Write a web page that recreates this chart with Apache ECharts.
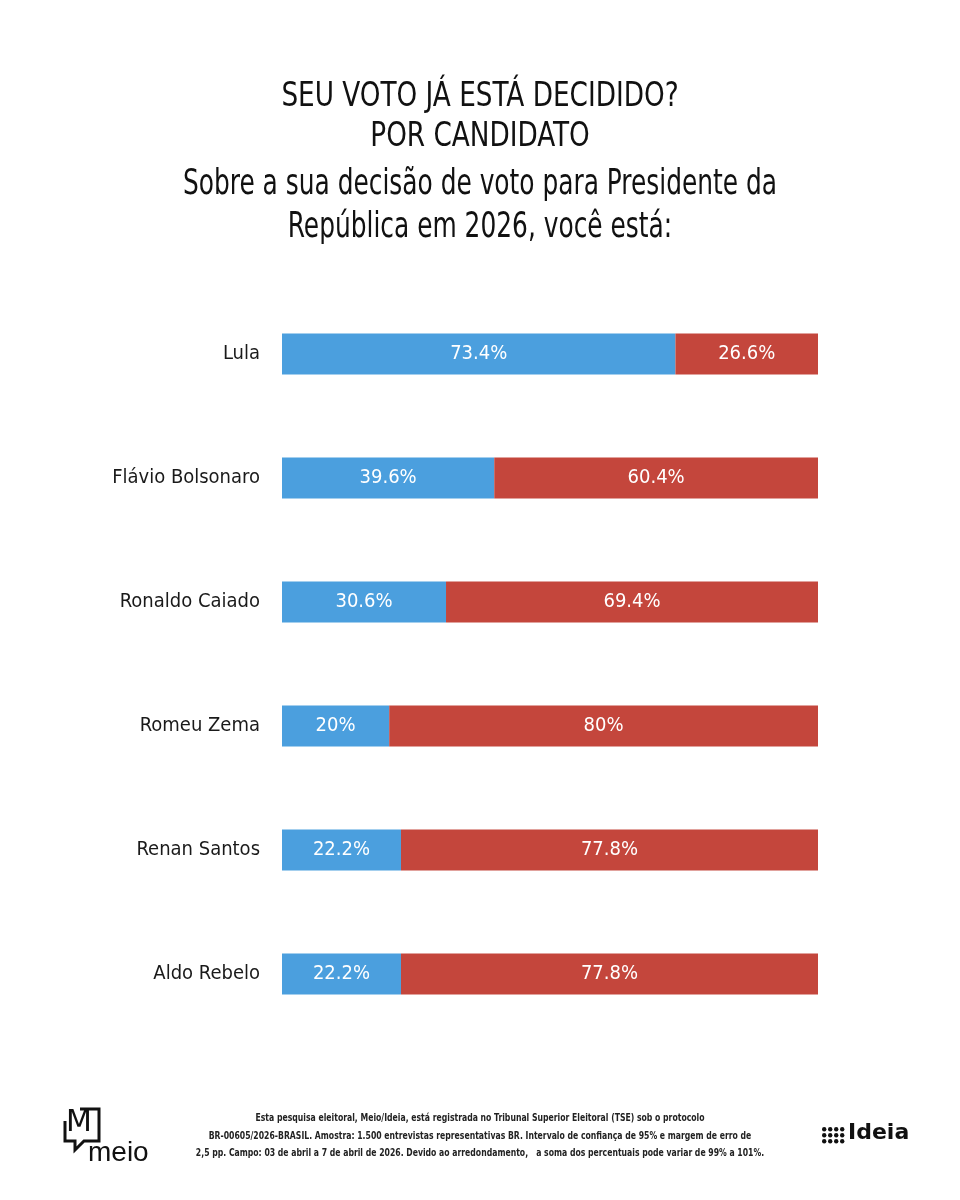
<!DOCTYPE html>
<html>
<head>
<meta charset="utf-8">
<script src="https://cdn.jsdelivr.net/npm/echarts@6/dist/echarts.min.js"></script>
<style>
  html, body { margin: 0; padding: 0; background: #fff; }
  #chart { width: 960px; height: 1200px; }
</style>
</head>
<body>
<div id="chart"></div>
<script>
var candidatos = ['Lula', 'Flávio Bolsonaro', 'Ronaldo Caiado', 'Romeu Zema', 'Renan Santos', 'Aldo Rebelo'];
var decidido = [73.4, 39.6, 30.6, 20, 22.2, 22.2];
var podeMudar = [26.6, 60.4, 69.4, 80, 77.8, 77.8];

var FONT = '"DejaVu Sans Condensed", "Liberation Sans Narrow", "Roboto", sans-serif';

var chart = echarts.init(document.getElementById('chart'));

function pct(p) {
    return p.value + '%';
}

// linha de texto centrada, comprimida na horizontal
function linha(txt, y, size, sx, extra) {
    var st = {
        text: txt,
        align: 'center',
        verticalAlign: 'middle',
        fontFamily: FONT,
        fontSize: size,
        fill: '#111'
    };
    for (var k in (extra || {})) st[k] = extra[k];
    return { type: 'text', x: 480, y: y, scaleX: sx, style: st };
}

var option = {
    backgroundColor: '#ffffff',
    grid: {
        left: 282,
        right: 142,
        top: 292,
        height: 744
    },
    xAxis: {
        type: 'value',
        min: 0,
        max: 100,
        show: false
    },
    yAxis: {
        type: 'category',
        inverse: true,
        data: candidatos,
        axisLine: { show: false },
        axisTick: { show: false },
        splitLine: { show: false },
        axisLabel: {
            margin: 22,
            fontFamily: FONT,
            fontSize: 20,
            color: '#1a1a1a'
        }
    },
    series: [
        {
            name: 'Já decidido',
            type: 'bar',
            stack: 'total',
            barWidth: 41,
            data: decidido,
            itemStyle: { color: '#4b9fde' },
            label: {
                show: true,
                position: 'inside',
                formatter: pct,
                fontFamily: FONT,
                fontSize: 20,
                color: '#ffffff'
            }
        },
        {
            name: 'Pode mudar',
            type: 'bar',
            stack: 'total',
            barWidth: 41,
            data: podeMudar,
            itemStyle: { color: '#c4463c' },
            label: {
                show: true,
                position: 'inside',
                formatter: pct,
                fontFamily: FONT,
                fontSize: 20,
                color: '#ffffff'
            }
        }
    ],
    graphic: [
        linha('SEU VOTO JÁ ESTÁ DECIDIDO?', 97, 34, 0.86),
        linha('POR CANDIDATO', 137, 34, 0.86),
        linha('Sobre a sua decisão de voto para Presidente da', 185, 35, 0.79),
        linha('República em 2026, você está:', 228, 35, 0.79),
        // rodapé
        linha('Esta pesquisa eleitoral, Meio/Ideia, está registrada no Tribunal Superior Eleitoral (TSE) sob o protocolo', 1118, 11, 0.78, { fontWeight: 'bold', fill: '#222' }),
        linha('BR-00605/2026-BRASIL. Amostra: 1.500 entrevistas representativas BR. Intervalo de confiança de 95% e margem de erro de', 1136, 11, 0.78, { fontWeight: 'bold', fill: '#222' }),
        linha('2,5 pp. Campo: 03 de abril a 7 de abril de 2026. Devido ao arredondamento,   a soma dos percentuais pode variar de 99% a 101%.', 1153, 11, 0.78, { fontWeight: 'bold', fill: '#222' }),
        // logo meio
        {
            type: 'polyline',
            shape: { points: [[80, 1109], [99, 1109], [99, 1141], [84, 1141], [75, 1150], [75, 1141], [65, 1141], [65, 1121]] },
            style: { stroke: '#111', lineWidth: 3, fill: null }
        },
        {
            type: 'text',
            left: 66,
            top: 1108,
            style: { text: 'M', fontFamily: 'DejaVu Sans', fontSize: 30, fill: '#111' }
        },
        {
            type: 'text',
            left: 88,
            top: 1139,
            style: { text: 'meio', fontFamily: '"Liberation Sans", sans-serif', fontSize: 28, fill: '#111' }
        },
        // logo ideia
        {
            type: 'group',
            left: 822,
            top: 1127,
            children: [0, 1, 2, 3].reduce(function (acc, c) {
                [0, 1, 2].forEach(function (r) {
                    acc.push({ type: 'circle', shape: { cx: c * 6 + 2, cy: r * 6 + 2, r: 2.2 }, style: { fill: '#111' } });
                });
                return acc;
            }, [])
        },
        {
            type: 'text',
            left: 848,
            top: 1122,
            style: { text: 'Ideia', fontFamily: '"DejaVu Sans", sans-serif', fontWeight: 'bold', fontSize: 22, fill: '#111' }
        }
    ]
};

chart.setOption(option);
window.onresize = chart.resize;
</script>
</body>
</html>
